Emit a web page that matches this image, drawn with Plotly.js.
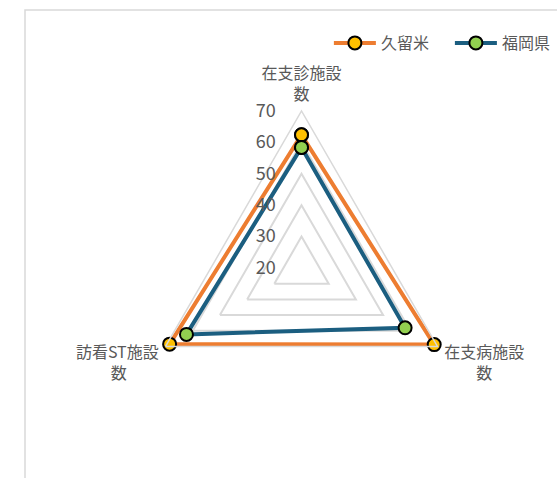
<!DOCTYPE html>
<html>
<head>
<meta charset="utf-8">
<script src="https://cdn.plot.ly/plotly-3.0.1.min.js"></script>
<style>
  html, body { margin: 0; padding: 0; background: #fff; }
  #chart { width: 557px; height: 478px; }
</style>
</head>
<body>
<div id="chart"></div>
<script>
// categories, clockwise from the top
var categories = ["在支診施設<br>数", "在支病施設<br>\u3000\u3000数", "訪看ST施設<br>数\u3000\u3000"];
var kurume = [62.4, 68.8, 68.5];
var fukuoka = [58.4, 58.1, 62.3];
var radialTicks = [20, 30, 40, 50, 60, 70];

var textColor = "#595959";
var gridColor = "#d9d9d9";
var font = "Noto Sans CJK JP, sans-serif";

// close the polygon by repeating the first point
var closeLoop = (arr) => arr.concat([arr[0]]);

function series(name, values, lineColor, markerColor) {
    return {
        type: "scatterpolar",
        mode: "lines+markers",
        name: name,
        r: closeLoop(values),
        theta: closeLoop(categories),
        line: {color: lineColor, width: 4},
        marker: {size: 13, color: markerColor, line: {color: "#000", width: 2}},
        cliponaxis: false
    };
}

var traces = [
    // trailing ideographic space widens the gap between legend entries
    series("久留米\u3000", kurume, "#ED7D31", "#FFC000"),
    series("福岡県", fukuoka, "#1B5E80", "#92D050")
];

var layout = {
    width: 557,
    height: 478,
    margin: {l: 0, r: 0, t: 0, b: 0},
    paper_bgcolor: "#fff",
    font: {family: font, color: textColor, size: 16},
    showlegend: true,
    legend: {
        orientation: "h",
        x: 0.998, xanchor: "right",
        y: 0.91, yanchor: "middle",
        font: {size: 16, color: textColor},
        itemwidth: 42
    },
    polar: {
        domain: {x: [0.2594, 0.8232], y: [0.1109, 0.7678]},
        bgcolor: "rgba(0,0,0,0)",
        gridshape: "linear",
        angularaxis: {
            direction: "clockwise",
            rotation: 90,
            showgrid: false,
            showline: true,
            linecolor: gridColor,
            linewidth: 1.5,
            ticks: "outside",
            ticklen: 4,
            tickcolor: "rgba(0,0,0,0)",
            tickfont: {size: 16, color: textColor}
        },
        radialaxis: {
            range: [20, 70],
            angle: 90,
            side: "counterclockwise",
            tickvals: radialTicks,
            showline: false,
            gridcolor: gridColor,
            gridwidth: 1.5,
            ticks: "outside",
            ticklen: 19,
            tickcolor: "rgba(0,0,0,0)",
            tickangle: 90,
            tickfont: {size: 18, color: textColor}
        }
    },
    shapes: [{
        type: "rect",
        xref: "paper", yref: "paper",
        x0: 25 / 557, x1: 1.2,
        y0: -0.2, y1: 1 - 10 / 478,
        line: {color: gridColor, width: 1.5},
        layer: "below"
    }]
};

Plotly.newPlot("chart", traces, layout, {displayModeBar: false});
</script>
</body>
</html>
